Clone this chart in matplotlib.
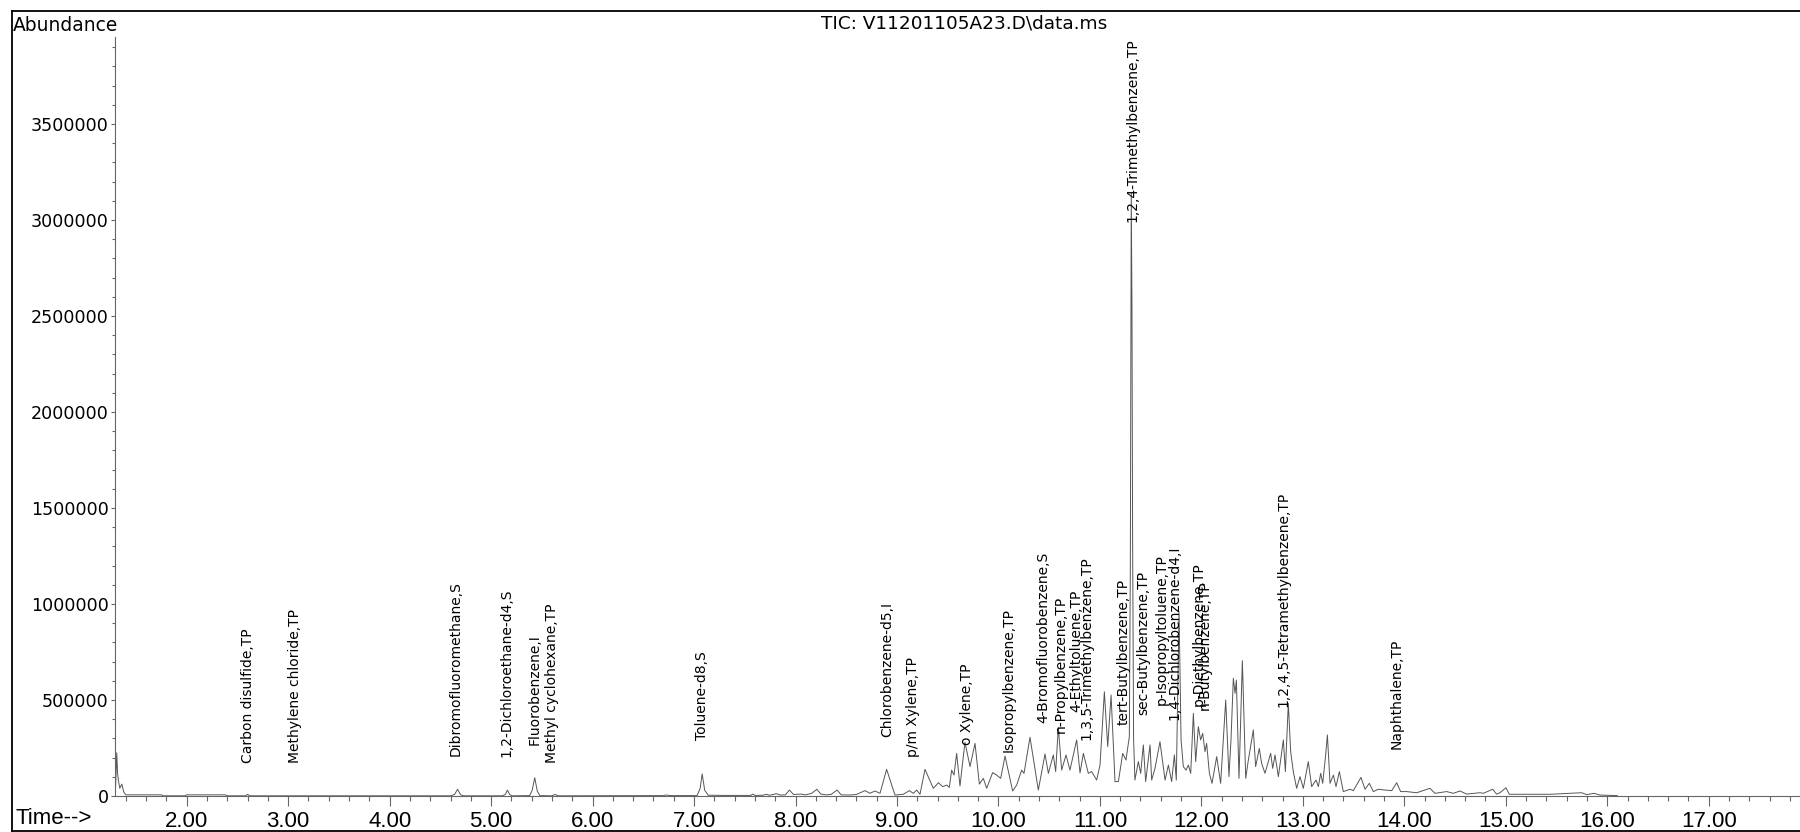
import matplotlib
matplotlib.use("Agg")
import matplotlib.pyplot as plt
from matplotlib.lines import Line2D
from matplotlib.ticker import MultipleLocator, FormatStrFormatter

# TIC trace (retention time in min, abundance)
rt_min = [1.293, 1.300, 1.310, 1.318, 1.326, 1.340, 1.360, 1.380, 1.400, 1.750,
          1.770, 1.980, 2.000, 2.380, 2.400, 2.580, 2.600, 2.620, 4.600, 4.640,
          4.669, 4.700, 4.730, 5.110, 5.140, 5.160, 5.185, 5.210, 5.380, 5.405,
          5.430, 5.455, 5.480, 5.600, 5.630, 5.660, 6.700, 6.720, 6.780, 7.030,
          7.060, 7.080, 7.105, 7.140, 7.300, 7.560, 7.580, 7.600, 7.680, 7.710,
          7.740, 7.780, 7.810, 7.850, 7.900, 7.940, 7.980, 8.050, 8.100, 8.160,
          8.210, 8.250, 8.300, 8.350, 8.410, 8.450, 8.537, 8.600, 8.685, 8.734,
          8.783, 8.833, 8.898, 8.980, 9.063, 9.122, 9.161, 9.194, 9.227, 9.276,
          9.358, 9.408, 9.450, 9.490, 9.516, 9.539, 9.562, 9.588, 9.621, 9.670,
          9.720, 9.769, 9.812, 9.851, 9.884, 9.943, 9.982, 10.022, 10.065, 10.140,
          10.180, 10.229, 10.252, 10.311, 10.393, 10.459, 10.492, 10.541, 10.564, 10.590,
          10.623, 10.666, 10.705, 10.771, 10.804, 10.837, 10.886, 10.919, 10.968, 11.001,
          11.044, 11.077, 11.110, 11.149, 11.182, 11.225, 11.257, 11.290, 11.300, 11.309,
          11.316, 11.322, 11.332, 11.345, 11.379, 11.402, 11.428, 11.451, 11.494, 11.510,
          11.543, 11.592, 11.642, 11.675, 11.707, 11.734, 11.753, 11.780, 11.800, 11.822,
          11.849, 11.872, 11.895, 11.921, 11.944, 11.970, 11.993, 12.013, 12.036, 12.052,
          12.079, 12.105, 12.151, 12.190, 12.240, 12.272, 12.292, 12.315, 12.332, 12.345,
          12.371, 12.404, 12.437, 12.463, 12.512, 12.535, 12.571, 12.594, 12.627, 12.683,
          12.703, 12.726, 12.759, 12.808, 12.828, 12.857, 12.880, 12.906, 12.939, 12.972,
          13.005, 13.054, 13.087, 13.130, 13.153, 13.176, 13.196, 13.225, 13.242, 13.268,
          13.301, 13.327, 13.360, 13.399, 13.465, 13.498, 13.573, 13.613, 13.655, 13.695,
          13.744, 13.810, 13.876, 13.925, 13.964, 14.023, 14.122, 14.253, 14.302, 14.417,
          14.483, 14.549, 14.614, 14.746, 14.779, 14.871, 14.910, 14.943, 15.002, 15.035,
          15.271, 15.436, 15.748, 15.797, 15.869, 15.928, 16.100]
abundance = [0, 60000, 225000, 120000, 83000, 40000, 62000, 20000, 6000, 6000,
             1000, 1000, 6000, 6000, 1000, 1000, 9000, 1000, 1000, 8000,
             35000, 6000, 1000, 1000, 8000, 31000, 6000, 1000, 2000, 30000,
             95000, 25000, 2000, 1000, 8000, 1000, 2000, 5000, 2000, 2000,
             40000, 115000, 30000, 4000, 3000, 3000, 10000, 3000, 4000, 9000,
             4000, 8000, 12000, 5000, 6000, 31000, 8000, 10000, 6000, 14000,
             35000, 10000, 6000, 8000, 31000, 6000, 5000, 8000, 28000, 14000,
             26000, 14000, 139000, 5000, 9000, 28000, 14000, 31000, 9000, 139000,
             40000, 69000, 49000, 57000, 45000, 135000, 109000, 222000, 52000, 280000,
             153000, 274000, 62000, 92000, 40000, 122000, 109000, 92000, 208000, 26000,
             57000, 135000, 118000, 306000, 31000, 219000, 118000, 214000, 127000, 358000,
             135000, 214000, 135000, 292000, 120000, 222000, 118000, 127000, 83000, 161000,
             543000, 257000, 526000, 75000, 75000, 222000, 187000, 309000, 1200000, 3140000,
             2540000, 1380000, 300000, 83000, 179000, 118000, 266000, 75000, 266000, 83000,
             144000, 283000, 83000, 161000, 75000, 214000, 83000, 960000, 292000, 153000,
             135000, 161000, 118000, 430000, 179000, 361000, 292000, 326000, 231000, 274000,
             118000, 66000, 205000, 66000, 500000, 101000, 292000, 613000, 535000, 604000,
             92000, 705000, 92000, 187000, 344000, 153000, 248000, 170000, 118000, 222000,
             144000, 214000, 101000, 292000, 127000, 483000, 231000, 127000, 40000, 101000,
             40000, 179000, 49000, 83000, 49000, 118000, 66000, 214000, 318000, 66000,
             109000, 49000, 127000, 23000, 35000, 28000, 97000, 35000, 66000, 23000,
             35000, 31000, 28000, 69000, 23000, 23000, 17000, 40000, 14000, 23000,
             14000, 26000, 10000, 17000, 14000, 35000, 10000, 17000, 43000, 9000,
             9000, 9000, 17000, 7000, 14000, 5000, 2000]

# peak annotations: name, label x (min), label bottom (abundance)
peak_names = ["Carbon disulfide,TP", "Methylene chloride,TP", "Dibromofluoromethane,S",
              "1,2-Dichloroethane-d4,S", "Fluorobenzene,I", "Methyl cyclohexane,TP",
              "Toluene-d8,S", "Chlorobenzene-d5,I", "p/m Xylene,TP", "o Xylene,TP",
              "Isopropylbenzene,TP", "4-Bromofluorobenzene,S", "n-Propylbenzene,TP",
              "4-Ethyltoluene,TP", "1,3,5-Trimethylbenzene,TP", "tert-Butylbenzene,TP",
              "1,2,4-Trimethylbenzene,TP", "sec-Butylbenzene,TP", "p-Isopropyltoluene,TP",
              "1,4-Dichlorobenzene-d4,I", "p-Diethylbenzene,TP", "n-Butylbenzene,TP",
              "1,2,4,5-Tetramethylbenzene,TP", "Naphthalene,TP"]
peak_rt = [2.60, 3.07, 4.65, 5.15, 5.43, 5.60, 7.08, 8.90, 9.16, 9.69,
           10.10, 10.44, 10.61, 10.77, 10.87, 11.23, 11.323, 11.43, 11.61, 11.73,
           11.97, 12.035, 12.81, 13.925]
peak_label_y = [170000, 170000, 208000, 202000, 266000, 170000, 292000, 309000, 205000, 266000,
                231000, 379000, 330000, 437000, 290000, 370000, 2991000, 422000, 474000, 396000,
                470000, 450000, 465000, 245000]

plt.rcParams["font.family"] = "DejaVu Sans"
narrow = ["Liberation Sans Narrow", "Liberation Sans"]

fig = plt.figure(figsize=(18, 8.32), dpi=100)
ax = fig.add_axes([115 / 1800, 36 / 832, 1685 / 1800, 759 / 832])

ax.plot(rt_min, abundance, color="#555555", lw=0.7)

for name, x, y in zip(peak_names, peak_rt, peak_label_y):
    ax.text(x, y, name, rotation=90, ha="center", va="bottom", fontsize=10, color="black")

ax.set_xlim(1.293, 17.90)
ax.set_ylim(0, 3953000)

for s in ["top", "right"]:
    ax.spines[s].set_visible(False)
for s in ["left", "bottom"]:
    ax.spines[s].set_color("#666666")
    ax.spines[s].set_linewidth(0.8)

ax.xaxis.set_major_locator(MultipleLocator(1.0))
ax.xaxis.set_minor_locator(MultipleLocator(0.2))
ax.xaxis.set_major_formatter(FormatStrFormatter("%.2f"))
ax.yaxis.set_major_locator(MultipleLocator(500000))
ax.yaxis.set_minor_locator(MultipleLocator(100000))
ax.yaxis.set_major_formatter(FormatStrFormatter("%d"))

ax.tick_params(axis="x", which="major", length=7.2, width=0.8, color="#666666", pad=3.5)
ax.tick_params(axis="x", which="minor", length=3.6, width=0.8, color="#666666")
ax.tick_params(axis="y", which="major", length=3, width=0.8, color="#666666", pad=1.5,
               labelsize=12.6)
ax.tick_params(axis="y", which="minor", length=2, width=0.8, color="#666666")
for lab in ax.get_xticklabels():
    lab.set_family(narrow)
    lab.set_fontsize(16)

# outer frame
fig.add_artist(Line2D([12 / 1800, 1.0], [1 - 11 / 832, 1 - 11 / 832], color="black", lw=1.3,
                      transform=fig.transFigure))
fig.add_artist(Line2D([12 / 1800, 12 / 1800], [1 / 832, 1 - 11 / 832], color="black", lw=1.3,
                      transform=fig.transFigure))
fig.add_artist(Line2D([12 / 1800, 1.0], [1.2 / 832, 1.2 / 832], color="black", lw=1.3,
                      transform=fig.transFigure))

fig.text(13 / 1800, 1 - 16 / 832, "Abundance", ha="left", va="top", fontsize=13.4)
fig.text(964 / 1800, 1 - 23 / 832, "TIC: V11201105A23.D\\data.ms", ha="center", va="center",
         fontsize=13.3)
fig.text(16 / 1800, 1 - 818 / 832, "Time-->", ha="left", va="center", fontsize=16, family=narrow)

plt.savefig("out.png", dpi=100)
